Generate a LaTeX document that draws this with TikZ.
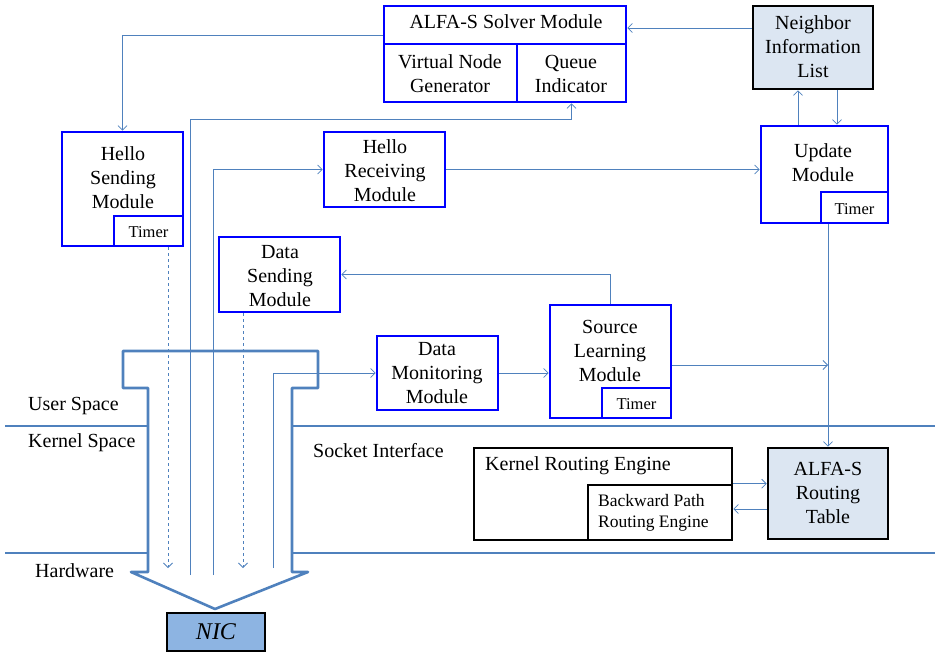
\documentclass[tikz,border=0pt]{standalone}
\usepackage{fontspec}
\setmainfont{Liberation Serif}
\usetikzlibrary{arrows.meta,fit,calc}

\definecolor{modblue}{RGB}{0,0,255}
\definecolor{conn}{RGB}{79,129,189}
\definecolor{pale}{RGB}{220,230,242}
\definecolor{nicblue}{RGB}{141,180,226}

\begin{document}
\begin{tikzpicture}[x=1pt,y=-1pt,
  bluebox/.style={draw=modblue, line width=2.6pt, inner sep=0pt, fill=white},
  blackbox/.style={draw=black, line width=2.6pt, inner sep=0pt, fill=white},
  wire/.style={draw=conn, line width=0.8pt, -{Straight Barb[length=4.5pt,width=9pt]}},
  dashedwire/.style={wire, dash pattern=on 3pt off 3pt},
  layer/.style={draw=conn, line width=2.6pt},
  lbl/.style={font=\fontsize{20}{24}\selectfont, align=center, inner sep=0pt},
  tlbl/.style={font=\fontsize{16.5}{20}\selectfont, inner sep=0pt},
  blbl/.style={font=\fontsize{17.5}{21}\selectfont, align=left, inner sep=0pt}]

\useasboundingbox (0,0) rectangle (935,653);

% layer boundaries
\draw[layer] (5,426) -- (148,426);
\draw[layer] (292,426) -- (935,426);
\draw[layer] (5,553) -- (148,553);
\draw[layer] (292,553) -- (935,553);

% socket interface (T-shaped channel ending in an arrow)
\draw[layer, line join=round] (148,572) -- (148,388) -- (123,388) -- (123,351)
  -- (318,351) -- (318,388) -- (292,388) -- (292,572) -- (308,572)
  -- (215,609) -- (131,572) -- cycle;

% layer labels
\node[lbl, anchor=west] (userspace) at (28,406) {User Space};
\node[lbl, anchor=west] (kernelspace) at (28,443) {Kernel Space};
\node[lbl, anchor=west] (hardware) at (35,571) {Hardware};
\node[lbl, anchor=west] (socket) at (313,451) {Socket Interface};

% solver module
\node[bluebox, fit={(384,6)(626,44)}] (solver) {};
\node[bluebox, fit={(384,44)(517,102)}] (vng) {};
\node[bluebox, fit={(517,44)(626,102)}] (queue) {};
\node[lbl] (solver-t) at (506,22) {ALFA-S Solver Module};
\node[lbl] (vng-t) at (450,74) {Virtual Node\\Generator};
\node[lbl] (queue-t) at (571,74) {Queue\\Indicator};

% neighbor list
\node[blackbox, fill=pale, fit={(753,6)(873,89)}] (nb) {};
\node[lbl] (nb-t) at (813,47) {Neighbor\\Information\\List};

% user-space modules
\node[bluebox, fit={(62,132)(183,246)}] (hs) {};
\node[lbl] (hs-t) at (123,178) {Hello\\Sending\\Module};
\node[bluebox, fit={(114,216)(183,246)}] (hst) {};
\node[tlbl] (hst-t) at (148.5,232) {Timer};

\node[bluebox, fit={(324,132)(445,207)}] (hr) {};
\node[lbl] (hr-t) at (385,171) {Hello\\Receiving\\Module};

\node[bluebox, fit={(761,126)(888,223)}] (up) {};
\node[lbl] (up-t) at (823,163) {Update\\Module};
\node[bluebox, fit={(821,192)(888,223)}] (upt) {};
\node[tlbl] (upt-t) at (854.5,209) {Timer};

\node[bluebox, fit={(219,237)(340,312)}] (ds) {};
\node[lbl] (ds-t) at (280,276) {Data\\Sending\\Module};

\node[bluebox, fit={(377,336)(498,410)}] (dm) {};
\node[lbl] (dm-t) at (437,373) {Data\\Monitoring\\Module};

\node[bluebox, fit={(550,305)(671,418)}] (src) {};
\node[lbl] (src-t) at (610,351) {Source\\Learning\\Module};
\node[bluebox, fit={(602,388)(671,418)}] (srct) {};
\node[tlbl] (srct-t) at (636.5,404) {Timer};

% kernel-space modules
\node[blackbox, fit={(474,448)(732,540)}] (kre) {};
\node[lbl, anchor=west] (kre-t) at (485,466) {Kernel Routing Engine};
\node[blackbox, fit={(588,485)(732,540)}] (bp) {};
\node[blbl, anchor=west] (bp-t) at (598,512.5) {Backward Path\\Routing Engine};

\node[blackbox, fill=pale, fit={(768,448)(888,539)}] (rt) {};
\node[lbl] (rt-t) at (828,493) {ALFA-S\\Routing\\Table};

% hardware
\node[blackbox, fill=nicblue, fit={(167,613)(265,651)}] (nic) {};
\node[lbl, font=\fontsize{24}{28}\selectfont\itshape] (nic-t) at (216,632) {NIC};

% connectors
\coordinate (solverout) at ([yshift=-10pt]solver.west);
\draw[wire] (solverout) -| (hs.north);

\coordinate (nbout) at ([yshift=19.5pt]nb.west);
\draw[wire] (nbout) -- (solver.east |- nbout);

\coordinate (upA) at ([xshift=-26.5pt]up.north);
\draw[wire] (upA) -- (upA |- nb.south);
\coordinate (nbB) at ([xshift=24pt]nb.south);
\draw[wire] (nbB) -- (nbB |- up.north);

\draw[wire] (hr.east) -- (hr.east -| up.west);

\coordinate (busA) at (190,575);
\draw[wire] (busA) -- ++(0,-456) -| (queue.south);
\coordinate (busB) at (213,575);
\draw[wire] (busB) |- (hr.west);
\coordinate (busC) at (273,568);
\draw[wire] (busC) |- (dm.west);

\draw[wire] (src.north) |- (ds.east);
\draw[wire] (dm.east) -- (dm.east -| src.west);

\coordinate (srcout) at ([yshift=-3.5pt]src.east);
\draw[wire] (srcout) -- (srcout -| rt.north);
\draw[wire] (rt.north |- upt.south) -- (rt.north);

\draw[wire] (bp.north east) -- (bp.north east -| rt.west);
\coordinate (rtout) at ([yshift=3.5pt]bp.east);
\draw[wire] (rtout -| rt.west) -- (rtout);

\coordinate (hsdrop) at ([xshift=19.5pt]hst.south);
\draw[dashedwire] (hsdrop) -- (hsdrop |- busC);
\coordinate (dsdrop) at ([xshift=-36.5pt]ds.south);
\draw[dashedwire] (dsdrop) -- (dsdrop |- busC);

\end{tikzpicture}
\end{document}
